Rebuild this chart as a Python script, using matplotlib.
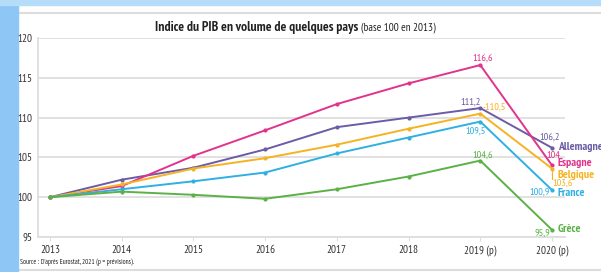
import matplotlib
matplotlib.use("Agg")
import matplotlib.pyplot as plt
import numpy as np
from matplotlib.patches import Rectangle
from matplotlib.lines import Line2D

plt.rcParams['font.family'] = ['PT Sans Narrow', 'DejaVu Sans']

years = ['2013', '2014', '2015', '2016', '2017', '2018', '2019 (p)', '2020 (p)']
allemagne = [100, 102.2, 103.7, 106.0, 108.8, 110.0, 111.2, 106.2]
espagne = [100, 101.4, 105.2, 108.4, 111.7, 114.3, 116.6, 104.0]
belgique = [100, 101.6, 103.6, 104.9, 106.6, 108.6, 110.5, 103.6]
france = [100, 101.0, 102.0, 103.1, 105.5, 107.5, 109.5, 100.9]
grece = [100, 100.7, 100.3, 99.8, 101.0, 102.6, 104.6, 95.9]

series = [
    ('Allemagne', allemagne, '#6b5ca5'),
    ('Espagne', espagne, '#e2338c'),
    ('Belgique', belgique, '#f5b323'),
    ('France', france, '#2fb0e2'),
    ('Grèce', grece, '#5bb146'),
]

fig = plt.figure(figsize=(6.01, 2.72), dpi=100)

# cadre autour du graphique
fig.patches.append(Rectangle((0, 0), 18 / 601, 1, transform=fig.transFigure,
                             color='#8ec6f6', zorder=-5))
fig.patches.append(Rectangle((0, 1 - 5 / 272), 1, 5 / 272, transform=fig.transFigure,
                             color='#b5dcf8', zorder=-5))
fig.lines.append(Line2D([18 / 601, 1], [1 - 13 / 272] * 2, transform=fig.transFigure,
                        color='#dddddd', lw=1.5, zorder=-5))
fig.lines.append(Line2D([18 / 601, 1], [2 / 272] * 2, transform=fig.transFigure,
                        color='#dddddd', lw=1.5, zorder=-5))

ax = fig.add_axes([38 / 601, 1 - 237 / 272, 527 / 601, 199 / 272])
x = np.arange(len(years))
for name, vals, col in series:
    ax.plot(x, vals, color=col, lw=1.4, marker='o', ms=2.0, zorder=3)

ax.set_xlim(-12 / 71.7, 7 + 13 / 71.7)
ax.set_ylim(95, 120)
ax.set_yticks([95, 100, 105, 110, 115, 120])
ax.set_xticks(x)
ax.set_xticklabels(years)
ax.grid(axis='y', color='#dedede', lw=1.3)
ax.set_axisbelow(True)
for s in ['top', 'right']:
    ax.spines[s].set_visible(False)
for s in ['left', 'bottom']:
    ax.spines[s].set_color('#dedede')
    ax.spines[s].set_linewidth(1.3)
ax.tick_params(axis='y', length=0, pad=4, labelsize=8, colors='#333333')
ax.tick_params(axis='x', length=3, color='#dedede', pad=3, labelsize=8, colors='#333333')

# valeurs
vlab = [
    ('116,6', 6.04, 117.5, '#e2338c'),
    ('111,2', 5.86, 111.9, '#6b5ca5'),
    ('-110,5', 6.2, 111.3, '#f5b323'),
    ('109,5', 5.93, 108.3, '#2fb0e2'),
    ('104,6', 6.03, 105.3, '#5bb146'),
    ('106,2', 6.97, 107.5, '#6b5ca5'),
    ('104', 7.02, 105.3, '#e2338c'),
    ('103,6', 7.15, 101.8, '#f5b323'),
    ('100,9', 6.83, 100.6, '#2fb0e2'),
    ('95,9', 6.86, 95.5, '#5bb146'),
]
for t, tx, ty, col in vlab:
    ax.text(tx, ty, t, color=col, fontsize=7.5, ha='center', va='center', clip_on=False)
ax.plot([7.0, 7.0], [103.4, 102.3], color='#f5b323', lw=0.8)

names = [('Allemagne', 106.3), ('Espagne', 104.3), ('Belgique', 102.8),
         ('France', 100.5), ('Grèce', 96.0)]
for (name, ny), (_, _, col) in zip(names, series):
    ax.text(7.08, ny, name, color=col, fontsize=8.5, fontweight='bold',
            ha='left', va='center', clip_on=False)

t1 = fig.text(155 / 601, 1 - 28 / 272, 'Indice du PIB en volume de quelques pays',
              fontsize=9.8, fontweight='bold', ha='left', va='center', color='#222222')
fig.canvas.draw()
bb = t1.get_window_extent()
fig.text((bb.x1 + 3) / 601, 1 - 28 / 272, '(base 100 en 2013)', fontsize=8,
         ha='left', va='center', color='#222222')

fig.text(20 / 601, 1 - 262 / 272, "Source : D'après Eurostat, 2021 (p = prévisions).",
         fontsize=5, ha='left', va='center', color='#222222')

fig.savefig('out.png', dpi=100)
